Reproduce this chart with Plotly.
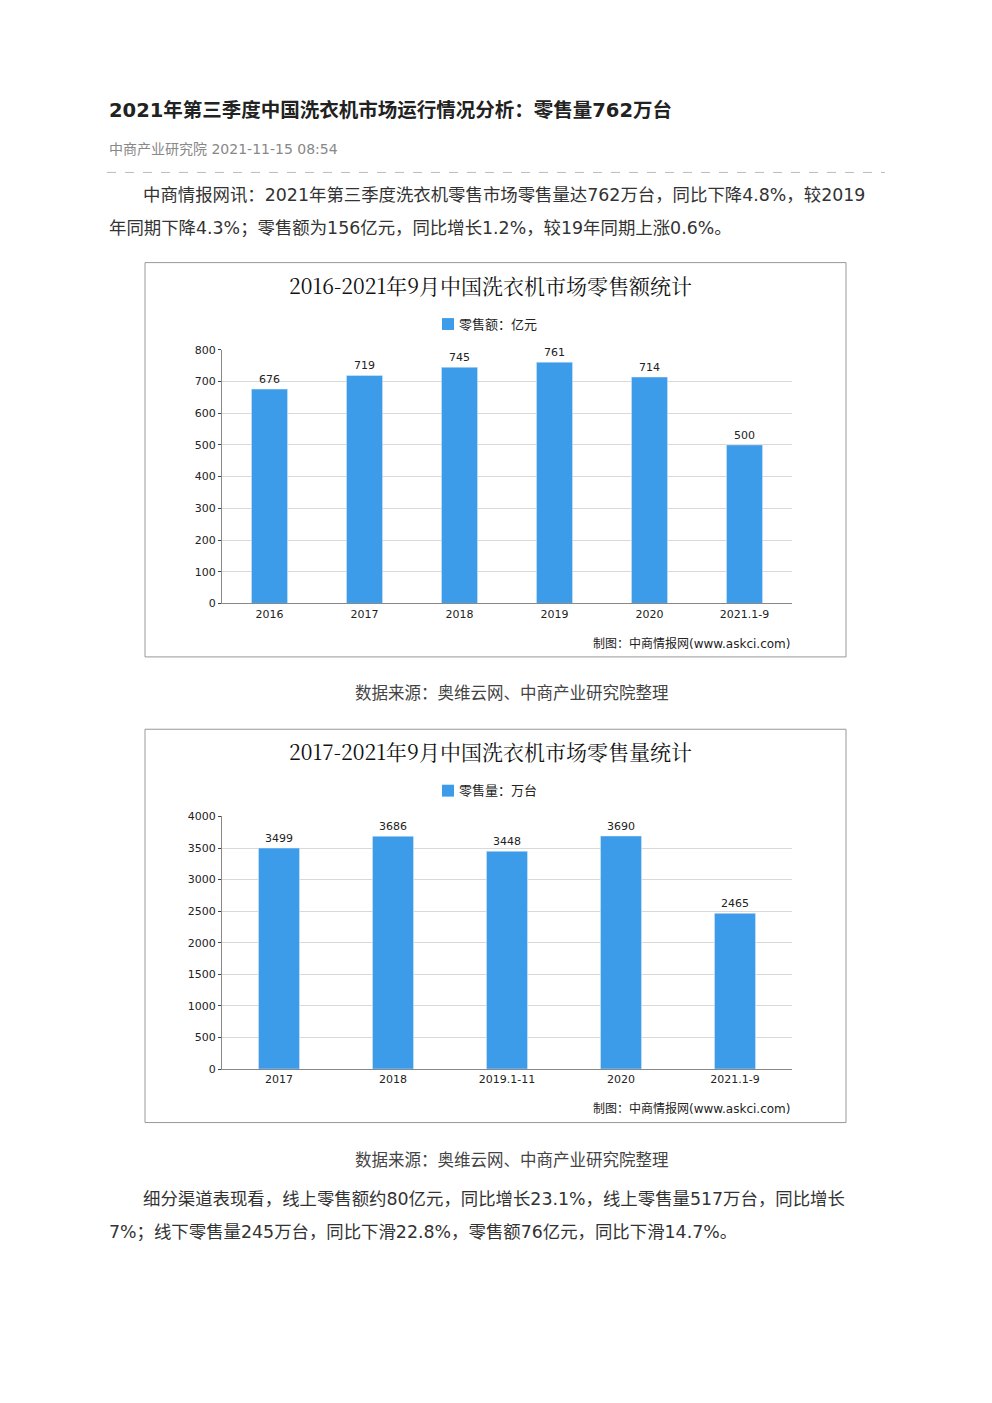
import plotly.graph_objects as go

W, H = 992, 1403

sales_years = ["2016", "2017", "2018", "2019", "2020", "2021.1-9"]
sales_values = [676, 719, 745, 761, 714, 500]

volume_years = ["2017", "2018", "2019.1-11", "2020", "2021.1-9"]
volume_values = [3499, 3686, 3448, 3690, 2465]

BLUE = "#3d9ce9"
FONT = "DejaVu Sans, Noto Sans CJK SC"


def py(y):
    # pixel row -> paper coordinate
    return 1 - y / H


fig = go.Figure()
fig.add_trace(go.Bar(x=sales_years, y=sales_values, marker_color=BLUE, width=0.38,
                     text=sales_values, textposition="outside", cliponaxis=False,
                     textfont=dict(size=11, color="#222"), xaxis="x", yaxis="y"))
fig.add_trace(go.Bar(x=volume_years, y=volume_values, marker_color=BLUE, width=0.36,
                     text=volume_values, textposition="outside", cliponaxis=False,
                     textfont=dict(size=11, color="#222"), xaxis="x2", yaxis="y2"))

xdom = [222 / W, 792 / W]
axis_common = dict(showline=True, linecolor="#888", tickfont=dict(size=11, color="#222", family=FONT),
                   fixedrange=True)
fig.update_layout(
    width=W, height=H, margin=dict(l=0, r=0, t=0, b=0),
    paper_bgcolor="white", plot_bgcolor="white", showlegend=False,
    font=dict(family=FONT),
    xaxis=dict(domain=xdom, anchor="y", ticks="", **axis_common),
    yaxis=dict(domain=[py(603), py(347)], range=[0, 800], dtick=100, gridcolor="#d9d9d9",
               ticks="outside", ticklen=3, anchor="x", **axis_common),
    xaxis2=dict(domain=xdom, anchor="y2", ticks="", **axis_common),
    yaxis2=dict(domain=[py(1073), py(818)], range=[0, 4000], dtick=500, gridcolor="#d9d9d9",
                ticks="outside", ticklen=3, anchor="x2", **axis_common),
)

shapes = [
    dict(type="line", xref="paper", yref="paper", x0=107 / W, x1=885 / W, y0=py(168), y1=py(168),
         line=dict(color="#bbb", width=1, dash="dash")),
    dict(type="rect", xref="paper", yref="paper", x0=145 / W, x1=846 / W, y0=py(657), y1=py(259),
         line=dict(color="#999", width=1)),
    dict(type="rect", xref="paper", yref="paper", x0=145 / W, x1=846 / W, y0=py(1127), y1=py(730),
         line=dict(color="#999", width=1)),
    dict(type="rect", xref="paper", yref="paper", x0=442 / W, x1=454 / W, y0=py(327), y1=py(315),
         fillcolor=BLUE, line=dict(width=0)),
    dict(type="rect", xref="paper", yref="paper", x0=442 / W, x1=454 / W, y0=py(798), y1=py(786),
         fillcolor=BLUE, line=dict(width=0)),
]
fig.update_layout(shapes=shapes)


def note(x, y, text, size=16, color="#333", xanchor="left", family=FONT):
    fig.add_annotation(xref="paper", yref="paper", x=x / W, y=py(y), text=text, showarrow=False,
                       xanchor=xanchor, yanchor="middle", font=dict(size=size, color=color, family=family))


note(107, 105, "<b>2021年第三季度中国洗衣机市场运行情况分析：零售量762万台</b>", 19.5, "#222")
note(107, 144, "中商产业研究院 2021-11-15 08:54", 14, "#888")
note(141, 191, "中商情报网讯：2021年第三季度洗衣机零售市场零售量达762万台，同比下降4.8%，较2019", 17.4)
note(107, 224, "年同期下降4.3%；零售额为156亿元，同比增长1.2%，较19年同期上涨0.6%。", 17.4)

note(490, 282, "2016-2021年9月中国洗衣机市场零售额统计", 21, "#111", "center", "Noto Serif CJK SC, serif")
note(457, 321, "零售额：亿元", 13, "#222")
note(792, 643, "制图：中商情报网(www.askci.com)", 12, "#222", "right")
note(512, 694, "数据来源：奥维云网、中商产业研究院整理", 16.5, "#444", "center")

note(490, 752, "2017-2021年9月中国洗衣机市场零售量统计", 21, "#111", "center", "Noto Serif CJK SC, serif")
note(457, 792, "零售量：万台", 13, "#222")
note(792, 1113, "制图：中商情报网(www.askci.com)", 12, "#222", "right")
note(512, 1165, "数据来源：奥维云网、中商产业研究院整理", 16.5, "#444", "center")

note(141, 1204, "细分渠道表现看，线上零售额约80亿元，同比增长23.1%，线上零售量517万台，同比增长", 17.4)
note(107, 1237, "7%；线下零售量245万台，同比下滑22.8%，零售额76亿元，同比下滑14.7%。", 17.4)

fig.write_html("out.html", config={"displayModeBar": False},
               post_script="document.body.style.margin='0';")
